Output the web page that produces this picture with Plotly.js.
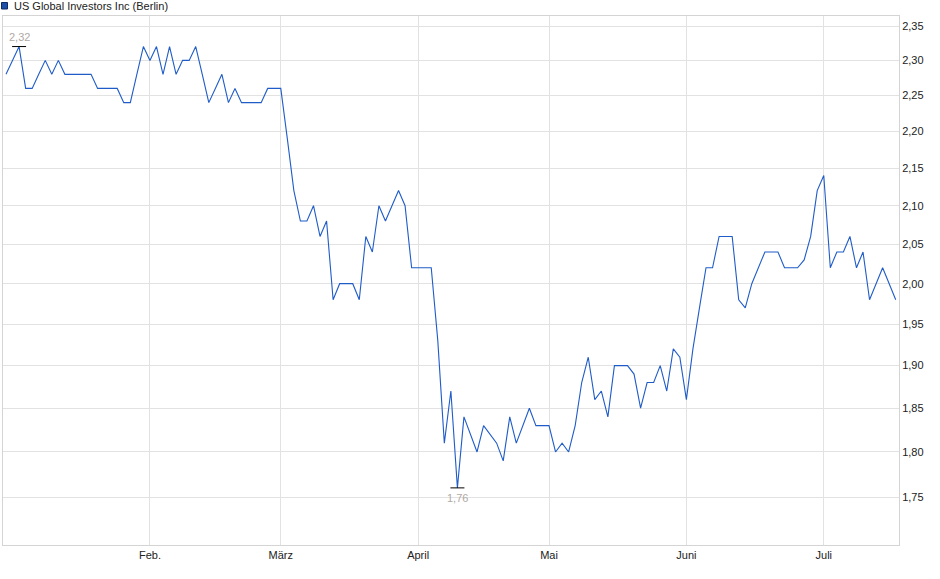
<!DOCTYPE html>
<html>
<head>
<meta charset="utf-8">
<script src="https://cdn.plot.ly/plotly-3.0.1.min.js"></script>
<style>
  html, body { margin: 0; padding: 0; background: #fff; }
  #chart { width: 940px; height: 579px; }
</style>
</head>
<body>
<div id="chart"></div>
<script>
// Trading days (Berlin), 2025
const dates = [
  '2025-01-02','2025-01-03','2025-01-06','2025-01-07','2025-01-08','2025-01-09','2025-01-10',
  '2025-01-13','2025-01-14','2025-01-15','2025-01-16','2025-01-17','2025-01-20','2025-01-21',
  '2025-01-22','2025-01-23','2025-01-24','2025-01-27','2025-01-28','2025-01-29','2025-01-30','2025-01-31',
  '2025-02-03','2025-02-04','2025-02-05','2025-02-06','2025-02-07','2025-02-10','2025-02-11',
  '2025-02-12','2025-02-13','2025-02-14','2025-02-17','2025-02-18','2025-02-19','2025-02-20',
  '2025-02-21','2025-02-24','2025-02-25','2025-02-26','2025-02-27','2025-02-28',
  '2025-03-03','2025-03-04','2025-03-05','2025-03-06','2025-03-07','2025-03-10','2025-03-11',
  '2025-03-12','2025-03-13','2025-03-14','2025-03-17','2025-03-18','2025-03-19','2025-03-20',
  '2025-03-21','2025-03-24','2025-03-25','2025-03-26','2025-03-27','2025-03-28','2025-03-31',
  '2025-04-01','2025-04-02','2025-04-03','2025-04-04','2025-04-07','2025-04-08','2025-04-09',
  '2025-04-10','2025-04-11','2025-04-14','2025-04-15','2025-04-16','2025-04-17','2025-04-22',
  '2025-04-23','2025-04-24','2025-04-25','2025-04-28','2025-04-29','2025-04-30',
  '2025-05-02','2025-05-05','2025-05-06','2025-05-07','2025-05-08','2025-05-09','2025-05-12',
  '2025-05-13','2025-05-14','2025-05-15','2025-05-16','2025-05-19','2025-05-20','2025-05-21',
  '2025-05-22','2025-05-23','2025-05-26','2025-05-27','2025-05-28','2025-05-29','2025-05-30',
  '2025-06-02','2025-06-03','2025-06-04','2025-06-05','2025-06-06','2025-06-09','2025-06-10',
  '2025-06-11','2025-06-12','2025-06-13','2025-06-16','2025-06-17','2025-06-18','2025-06-19',
  '2025-06-20','2025-06-23','2025-06-24','2025-06-25','2025-06-26','2025-06-27','2025-06-30',
  '2025-07-01','2025-07-02','2025-07-03','2025-07-04','2025-07-07','2025-07-08','2025-07-09',
  '2025-07-10','2025-07-11','2025-07-14','2025-07-15','2025-07-16'
];

// Closing prices (EUR)
const prices = [
  2.28,2.30,2.32,2.26,2.26,2.28,2.30,2.28,2.30,2.28,2.28,2.28,2.28,2.28,2.26,2.26,2.26,2.26,2.24,2.24,2.28,2.32,
  2.30,2.32,2.28,2.32,2.28,2.30,2.30,2.32,2.28,2.24,2.26,2.28,2.24,2.26,2.24,2.24,2.24,2.24,2.26,2.26,
  2.26,2.19,2.12,2.08,2.08,2.10,2.06,2.08,1.98,2.00,2.00,2.00,1.98,2.06,2.04,2.10,2.08,2.10,2.12,2.10,2.02,
  2.02,2.02,2.02,1.93,1.81,1.87,1.76,1.84,1.82,1.80,1.83,1.82,1.81,1.79,1.84,1.81,1.83,1.85,1.83,1.83,
  1.83,1.80,1.81,1.80,1.83,1.88,1.91,1.86,1.87,1.84,1.90,1.90,1.90,1.89,1.85,1.88,1.88,1.90,1.87,1.92,1.91,
  1.86,1.92,1.97,2.02,2.02,2.06,2.06,2.06,1.98,1.97,2.00,2.02,2.04,2.04,2.04,2.02,2.02,2.02,2.03,2.06,2.12,
  2.14,2.02,2.04,2.04,2.06,2.02,2.04,1.98,2.00,2.02,2.00,1.98
];

const monthTickDates = ['2025-02-03','2025-03-03','2025-04-01','2025-05-02','2025-06-02','2025-07-01'];
const monthLabels = ['Feb.','März','April','Mai','Juni','Juli'];
const yTicks = [1.75,1.80,1.85,1.90,1.95,2.00,2.05,2.10,2.15,2.20,2.25,2.30,2.35];

const seriesName = 'US Global Investors Inc (Berlin)';

// extremes
let iMax = 0, iMin = 0;
prices.forEach((v, i) => { if (v > prices[iMax]) iMax = i; if (v < prices[iMin]) iMin = i; });
const fmt = v => v.toFixed(2).replace('.', ',');

const lineColor = '#1f5cc8';
const gridColor = '#e2e2e2';
const fontFam = 'Liberation Sans, Arial, sans-serif';
const extremeFont = { family: fontFam, size: 11, color: '#b0aaa4' };

const traces = [
  {
    type: 'scatter', mode: 'lines', x: dates, y: prices,
    line: { color: lineColor, width: 1.1 }, hoverinfo: 'skip'
  },
  {
    type: 'scatter', mode: 'markers',
    x: [dates[iMax], dates[iMin]], y: [prices[iMax], prices[iMin]],
    marker: { symbol: 'line-ew', size: 10, line: { color: '#000', width: 1 } },
    cliponaxis: false, hoverinfo: 'skip'
  }
];

const layout = {
  width: 940, height: 579,
  margin: { l: 3, r: 41, t: 16, b: 34, pad: 0 },
  paper_bgcolor: '#fff', plot_bgcolor: '#fff',
  showlegend: false,
  separators: ',.',
  font: { family: fontFam, size: 11, color: '#222' },
  xaxis: {
    type: 'category',
    range: [-0.46, 136.5],
    tickvals: monthTickDates, ticktext: monthLabels,
    showgrid: true, gridcolor: gridColor, gridwidth: 1,
    showline: true, mirror: true, linecolor: '#d4d4d4', linewidth: 1,
    ticks: '', zeroline: false,
    tickfont: { family: fontFam, size: 11, color: '#222' },
    fixedrange: true
  },
  yaxis: {
    type: 'log', side: 'right',
    range: [Math.log10(1.6982), Math.log10(2.3648)],
    tickvals: yTicks, tickformat: '.2f',
    showgrid: true, gridcolor: gridColor, gridwidth: 1,
    showline: true, mirror: true, linecolor: '#d4d4d4', linewidth: 1,
    ticks: '', zeroline: false,
    tickfont: { family: fontFam, size: 11, color: '#222' },
    fixedrange: true
  },
  shapes: [
    {
      type: 'rect', xref: 'paper', yref: 'paper',
      x0: (1.5 - 3) / 896, x1: (7.5 - 3) / 896,
      y0: (545 - 9) / 529, y1: (545 - 2.5) / 529,
      fillcolor: '#1d4fa6', line: { color: '#0d2a66', width: 1 }
    }
  ],
  annotations: [
    {
      xref: 'paper', yref: 'paper',
      x: (12 - 3) / 896, y: (545 - 6) / 529,
      xanchor: 'left', yanchor: 'middle',
      text: seriesName, showarrow: false,
      font: { family: fontFam, size: 11, color: '#222' }
    },
    {
      xref: 'x', yref: 'y',
      x: dates[iMax], y: Math.log10(prices[iMax]),
      xanchor: 'center', yanchor: 'middle', yshift: 10,
      text: fmt(prices[iMax]), showarrow: false, font: extremeFont
    },
    {
      xref: 'x', yref: 'y',
      x: dates[iMin], y: Math.log10(prices[iMin]),
      xanchor: 'center', yanchor: 'middle', yshift: -10,
      text: fmt(prices[iMin]), showarrow: false, font: extremeFont
    }
  ]
};

Plotly.newPlot('chart', traces, layout, { staticPlot: true, displayModeBar: false });
</script>
</body>
</html>
